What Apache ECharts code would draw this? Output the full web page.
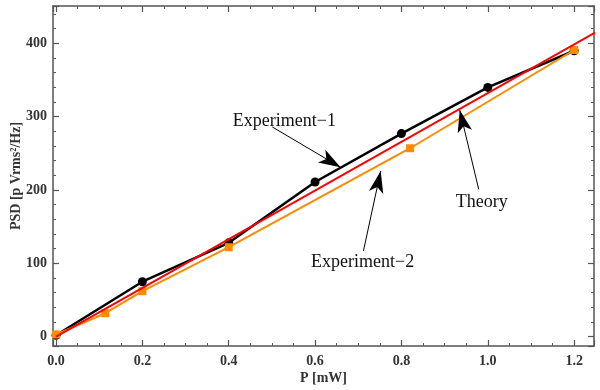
<!DOCTYPE html>
<html><head><meta charset="utf-8">
<script src="https://cdn.jsdelivr.net/npm/echarts@6/dist/echarts.min.js"></script>
<style>html,body{margin:0;padding:0;background:#fff}#c{width:600px;height:390px}</style>
</head><body><div id="c"></div>
<script>
var exp1X = [0, 0.2, 0.4, 0.6, 0.8, 1.0, 1.2];
var exp1Y = [2, 75, 128, 211, 277, 340, 390];
var exp2X = [0, 0.114, 0.2, 0.4, 0.82, 1.2];
var exp2Y = [3, 32, 62, 122, 257, 391];
var theoryX = [0, 1.3];
var theoryY = [0, 432];
var xRange = [-0.007, 1.246];
var yRange = [-12.7, 451];
var labels = [
  {text: 'Experiment\u22121', at: [0.529, 294], from: [0.501, 286], to: [0.659, 231]},
  {text: 'Experiment\u22122', at: [0.71, 101], from: [0.712, 117], to: [0.752, 226]},
  {text: 'Theory', at: [0.986, 183], from: [0.979, 201], to: [0.935, 309]}
];
function zip(a, b) { return a.map(function (v, i) { return [v, b[i]]; }); }

var serif = '"Liberation Serif", "DejaVu Serif", serif';
var axisColor = '#555';
function xa(pos, showLabel) {
  return {
    type: 'value', position: pos, min: xRange[0], max: xRange[1], splitNumber: 6,
    name: showLabel ? 'P [mW]' : '', nameLocation: 'middle', nameGap: 25, nameMoveOverlap: false,
    nameTextStyle: {fontFamily: serif, fontWeight: 'bold', fontSize: 14, color: '#333'},
    axisLine: {show: true, onZero: false, lineStyle: {color: axisColor, width: 1.5}},
    axisTick: {show: true, inside: true, length: 6, lineStyle: {color: axisColor, width: 1.2}},
    minorTick: {show: true, splitNumber: 4, length: 3, lineStyle: {color: axisColor, width: 1}},
    axisLabel: {show: showLabel, showMinLabel: false, showMaxLabel: false, margin: 8,
      fontFamily: serif, fontWeight: 'bold', fontSize: 14, color: '#333',
      formatter: function (v) { return v.toFixed(1); }},
    splitLine: {show: false}
  };
}
function ya(pos, showLabel) {
  return {
    type: 'value', position: pos, min: yRange[0], max: yRange[1], splitNumber: 5,
    name: showLabel ? 'PSD [p Vrms\u00B2/Hz]' : '', nameLocation: 'middle', nameGap: 30, nameRotate: 90,
    nameMoveOverlap: false,
    nameTextStyle: {fontFamily: serif, fontWeight: 'bold', fontSize: 14, color: '#333'},
    axisLine: {show: true, onZero: false, lineStyle: {color: axisColor, width: 1.5}},
    axisTick: {show: true, inside: true, length: 6, lineStyle: {color: axisColor, width: 1.2}},
    minorTick: {show: true, splitNumber: 5, length: 3, lineStyle: {color: axisColor, width: 1}},
    axisLabel: {show: showLabel, showMinLabel: false, showMaxLabel: false, margin: 6,
      fontFamily: serif, fontWeight: 'bold', fontSize: 14, color: '#333'},
    splitLine: {show: false}
  };
}

var chart = echarts.init(document.getElementById('c'), null, {renderer: 'canvas'});
chart.setOption({
  animation: false,
  backgroundColor: '#fff',
  grid: {left: 53, right: 6, top: 6, bottom: 44, containLabel: false, outerBoundsMode: 'none'},
  xAxis: [xa('bottom', true), xa('top', false)],
  yAxis: [ya('left', true), ya('right', false)],
  series: [
    {type: 'line', data: zip(exp1X, exp1Y), symbol: 'circle', symbolSize: 9,
     lineStyle: {color: '#000', width: 2.5}, itemStyle: {color: '#000'}, z: 2},
    {type: 'line', data: zip(exp2X, exp2Y), symbol: 'rect', symbolSize: 8,
     lineStyle: {color: '#ff8a00', width: 2}, itemStyle: {color: '#ff8a00'}, z: 3},
    {type: 'line', data: zip(theoryX, theoryY), symbol: 'none', clip: true,
     lineStyle: {color: '#ff0000', width: 2}, z: 4,
     markLine: {
       silent: true, animation: false,
       symbol: ['none', 'arrow'],
       lineStyle: {color: '#000', width: 1, type: 'solid'},
       label: {show: false},
       data: labels.map(function (l) {
         return [{coord: l.from, symbol: 'none'}, {coord: l.to, symbol: 'arrow', symbolSize: [11, 22]}];
       })
     },
     markPoint: {
       silent: true, animation: false, symbol: 'circle', symbolSize: 0,
       data: labels.map(function (l) {
         return {coord: l.at, label: {show: true, position: 'inside', formatter: l.text,
           fontFamily: serif, fontSize: 18, color: '#111'}};
       })
     }
    }
  ]
});
</script></body></html>
